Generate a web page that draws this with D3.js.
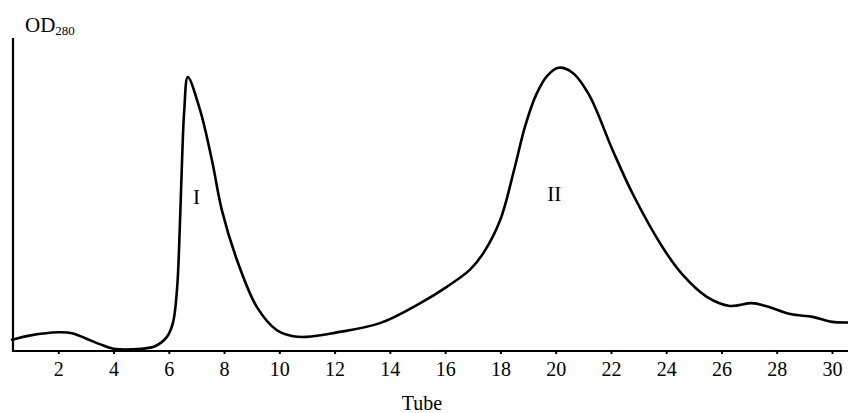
<!DOCTYPE html>
<html>
<head>
<meta charset="utf-8">
<script src="https://cdn.jsdelivr.net/npm/d3@7"></script>
<style>
  html, body { margin: 0; padding: 0; background: #fff; }
  svg { display: block; font-family: "Liberation Serif", "DejaVu Serif", serif; }
</style>
</head>
<body>
<svg id="chart" width="848" height="413"></svg>
<script>
// elution profile
const tubes = [0.29, 1, 2, 2.5, 3, 3.5, 4, 5, 5.5, 5.93, 6.15, 6.3, 6.4, 6.48, 6.56, 6.69,
  7.13, 7.56, 7.92, 8.47, 9.19, 9.9, 10.5, 11, 12, 13.64, 15.1, 16.06, 16.9, 17.4,
  18.0, 18.5, 18.9, 19.3, 19.7, 20.1, 20.6, 21.2, 22.07, 22.8, 23.88, 24.6, 25.47,
  26.3, 27.1, 27.6, 28.5, 29.3, 30.0, 30.6];
const od280 = [0.035, 0.05, 0.06, 0.057, 0.04, 0.022, 0.007, 0.007, 0.015, 0.045, 0.09,
  0.2, 0.40, 0.61, 0.77, 0.875, 0.77, 0.61, 0.45, 0.29, 0.14, 0.067, 0.047, 0.045, 0.058,
  0.089, 0.153, 0.205, 0.26, 0.315, 0.42, 0.58, 0.72, 0.82, 0.88, 0.905, 0.89,
  0.82, 0.64, 0.50, 0.33, 0.243, 0.173, 0.144, 0.153, 0.144, 0.118, 0.109, 0.093, 0.091];
const tickValues = [2, 4, 6, 8, 10, 12, 14, 16, 18, 20, 22, 24, 26, 28, 30];
const peakLabels = [{ text: 'I', tube: 7.0, od: 0.47 }, { text: 'II', tube: 19.95, od: 0.48 }];

const svg = d3.select('#chart');
const x = d3.scaleLinear().domain([0, 30]).range([3, 832]);
const y = d3.scaleLinear().domain([0, 1]).range([351, 38]);

// axes
svg.append('line')
  .attr('x1', 13).attr('x2', 13).attr('y1', 38).attr('y2', 352)
  .attr('stroke', '#000').attr('stroke-width', 2.2);
svg.append('line')
  .attr('x1', 12).attr('x2', 848).attr('y1', y(0)).attr('y2', y(0))
  .attr('stroke', '#000').attr('stroke-width', 2.2);

const xAxis = d3.axisBottom(x).tickValues(tickValues).tickSize(3).tickPadding(8);
const gx = svg.append('g').attr('transform', `translate(0,${y(0)})`).call(xAxis);
gx.select('.domain').remove();
gx.selectAll('.tick line').attr('stroke-width', 2);
gx.selectAll('.tick text')
  .attr('font-family', '"Liberation Serif", serif')
  .attr('font-size', 20).attr('fill', '#000');

svg.append('text')
  .attr('x', 422).attr('y', 410)
  .attr('text-anchor', 'middle').attr('font-size', 20)
  .text('Tube');

const ylab = svg.append('text').attr('x', 25).attr('y', 32).attr('font-size', 21);
ylab.append('tspan').text('OD');
ylab.append('tspan').attr('font-size', 13).attr('dy', 3).text('280');

// curve
const pts = tubes.map((t, i) => [t, od280[i]]);
const line = d3.line()
  .x(d => x(d[0])).y(d => y(d[1]))
  .curve(d3.curveCatmullRom.alpha(0.5));
svg.append('path')
  .datum(pts)
  .attr('d', line)
  .attr('fill', 'none')
  .attr('stroke', '#000')
  .attr('stroke-width', 2.6)
  .attr('stroke-linejoin', 'round');

svg.selectAll('.peak').data(peakLabels).join('text')
  .attr('class', 'peak')
  .attr('x', d => x(d.tube)).attr('y', d => y(d.od))
  .attr('text-anchor', 'middle').attr('font-size', 21)
  .text(d => d.text);
</script>
</body>
</html>
